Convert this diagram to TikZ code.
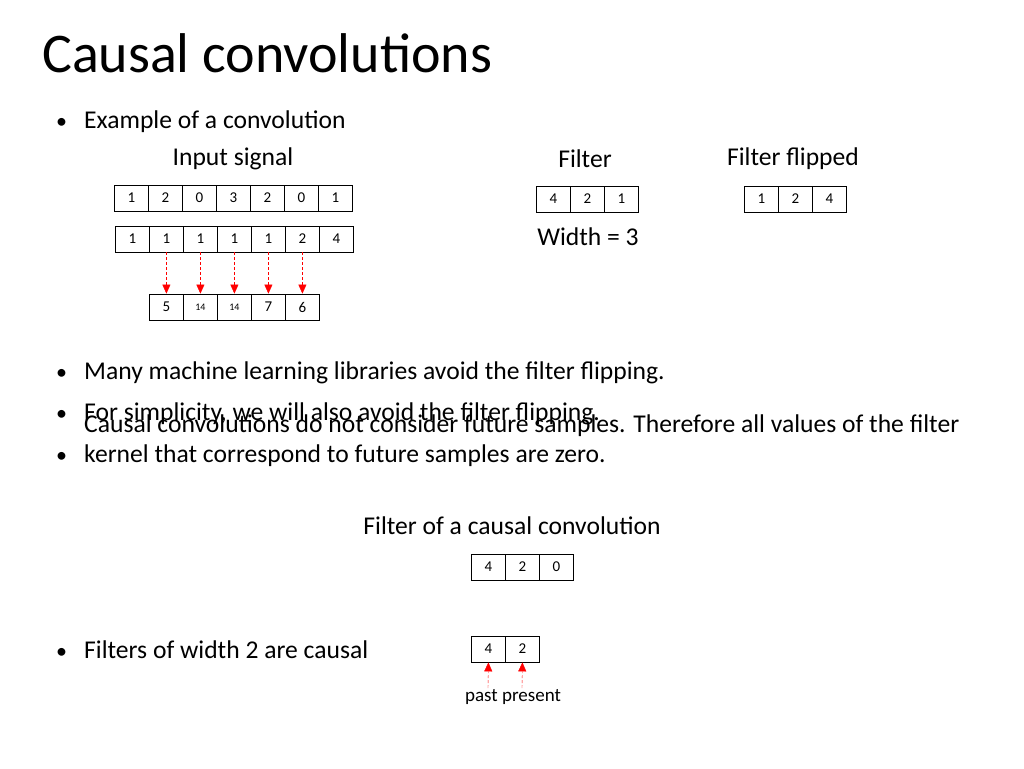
\documentclass[tikz,border=0pt]{standalone}
\usepackage{fontspec}
\setmainfont{Carlito}
\usetikzlibrary{arrows.meta}
\begin{document}
\begin{tikzpicture}[x=1pt,y=-1pt,
  cell/.style={draw,thick,minimum width=34pt,minimum height=26pt,inner sep=0pt,font=\fontsize{15}{15}\selectfont,anchor=west},
  txt/.style={anchor=base west,inner sep=0pt,font=\fontsize{25.6}{30}\selectfont},
  bul/.style={anchor=base west,inner sep=0pt,font=\fontsize{22}{26}\selectfont},
  lab/.style={inner sep=0pt,font=\fontsize{25.6}{30}\selectfont},
  arr/.style={red,densely dashed,-{Triangle[width=8pt,length=9pt,fill=red]}}]
\useasboundingbox (0,0) rectangle (1024,768);
\node[anchor=base west,inner sep=0pt,font=\fontsize{56}{56}\selectfont] (title) at (42,72) {Causal convolutions};
\node[bul] (d1) at (56,128) {\textbullet};
\node[txt] (b1) at (84,128) {Example of a convolution};
\node[lab] (l1) at (233,159) {Input signal};
\node[lab] (l2) at (585,159) {Filter};
\node[lab] (l3) at (793,159) {Filter flipped};
\node[lab] (l4) at (588,237) {Width = 3};
\foreach \v [count=\i] in {1,2,0,3,2,0,1} \node[cell] (a\i) at (114+34*\i-34,198) {\v};
\foreach \v [count=\i] in {1,1,1,1,1,2,4} \node[cell] (b\i) at (115+34*\i-34,239) {\v};
\foreach \v [count=\i] in {5,{\fontsize{10}{10}\selectfont 14},{\fontsize{10}{10}\selectfont 14},7,6} \node[cell] (c\i) at (149+34*\i-34,307) {\v};
\foreach \v [count=\i] in {4,2,1} \node[cell] (f\i) at (536+34*\i-34,199) {\v};
\foreach \v [count=\i] in {1,2,4} \node[cell] (g\i) at (744+34*\i-34,199) {\v};
\foreach \i in {1,...,5} {\pgfmathtruncatemacro\j{\i+1}\draw[arr] (b\j.south) -- (c\i.north);}
\node[bul] (d2) at (56,379) {\textbullet};
\node[txt] (b2) at (84,379) {Many machine learning libraries avoid the filter flipping.};
\node[bul] (d3) at (56,420) {\textbullet};
\node[txt] (b3) at (84,420) {For simplicity, we will also avoid the filter flipping.};
\node[bul] (d4) at (56,462) {\textbullet};
\node[txt,align=left] (b4) at (84,462) {Causal convolutions do not consider future samples. Therefore all values of the filter\\kernel that correspond to future samples are zero.};
\node[lab] (l5) at (512,526) {Filter of a causal convolution};
\foreach \v [count=\i] in {4,2,0} \node[cell] (h\i) at (471+34*\i-34,567) {\v};
\node[bul] (d5) at (56,658) {\textbullet};
\node[txt] (b5) at (84,658) {Filters of width 2 are causal};
\foreach \v [count=\i] in {4,2} \node[cell] (k\i) at (471+34*\i-34,649) {\v};
\node[inner sep=0pt,font=\fontsize{19}{19}\selectfont] (p1) at (513,697) {past present};
\coordinate (q1) at (488,688);
\coordinate (q2) at (522,688);
\draw[arr] (q1) -- (k1.south);
\draw[arr] (q2) -- (k2.south);
\end{tikzpicture}
\end{document}
